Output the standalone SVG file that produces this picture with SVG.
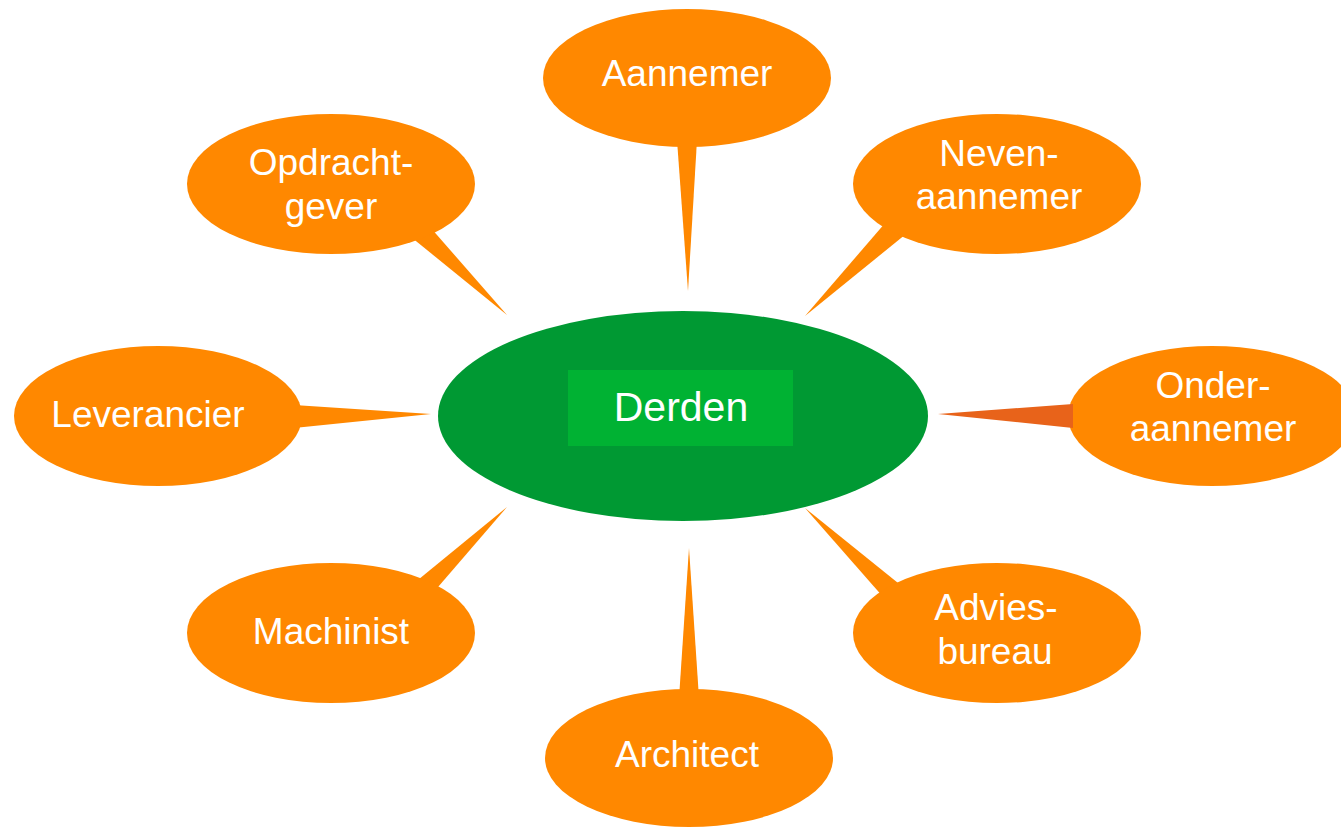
<svg xmlns="http://www.w3.org/2000/svg" width="1341" height="827" viewBox="0 0 1341 827">
<style>
.bubble{fill:#FF8800}
.tail{fill:#FF8800}
.tail-dark{fill:#E8631A}
.lbl{font-family:"Liberation Sans",Arial,sans-serif;font-size:37px;fill:#FFFFFF;text-anchor:middle}
.center-lbl{font-family:"Liberation Sans",Arial,sans-serif;font-size:41px;fill:#FFFFFF;text-anchor:middle}
</style>
<rect width="1341" height="827" fill="#FFFFFF"/>
<g id="connectors">
<polygon class="tail" points="677,140 697,140 688,291"/>
<polygon class="tail" points="411,237 430,227 507,315"/>
<polygon class="tail" points="886,222 906,234 805,316"/>
<polygon class="tail" points="294,405 294,428 431,414"/>
<polygon class="tail" points="413,584 432,594 507,507"/>
<polygon class="tail" points="884,598 903,587 805,508"/>
<polygon class="tail" points="679,698 699,698 689,548"/>
</g>
<g id="derden">
<ellipse cx="683" cy="416" rx="245" ry="105" fill="#009933"/>
<rect x="568" y="370" width="225" height="76" fill="#00B233"/>
<text class="center-lbl" x="681" y="421">Derden</text>
</g>
<g id="aannemer">
<ellipse class="bubble" cx="687" cy="78" rx="144" ry="69"/>
<text class="lbl" x="687" y="86">Aannemer</text>
</g>
<g id="opdrachtgever">
<ellipse class="bubble" cx="331" cy="184" rx="144" ry="70"/>
<text class="lbl" x="331" y="175">Opdracht-</text>
<text class="lbl" x="331" y="219">gever</text>
</g>
<g id="nevenaannemer">
<ellipse class="bubble" cx="997" cy="184" rx="144" ry="70"/>
<text class="lbl" x="999" y="166">Neven-</text>
<text class="lbl" x="999" y="209">aannemer</text>
</g>
<g id="leverancier">
<ellipse class="bubble" cx="158" cy="416" rx="144" ry="70"/>
<text class="lbl" x="148" y="427">Leverancier</text>
</g>
<g id="onderaannemer">
<ellipse class="bubble" cx="1212" cy="416" rx="144" ry="70"/>
<polygon class="tail-dark" points="1073,404 1073,428 938,414"/>
<text class="lbl" x="1213" y="398">Onder-</text>
<text class="lbl" x="1213" y="441">aannemer</text>
</g>
<g id="machinist">
<ellipse class="bubble" cx="331" cy="633" rx="144" ry="70"/>
<text class="lbl" x="331" y="644">Machinist</text>
</g>
<g id="adviesbureau">
<ellipse class="bubble" cx="997" cy="633" rx="144" ry="70"/>
<text class="lbl" x="996" y="620">Advies-</text>
<text class="lbl" x="995" y="664">bureau</text>
</g>
<g id="architect">
<ellipse class="bubble" cx="689" cy="758" rx="144" ry="69"/>
<text class="lbl" x="687" y="767">Architect</text>
</g>
</svg>
